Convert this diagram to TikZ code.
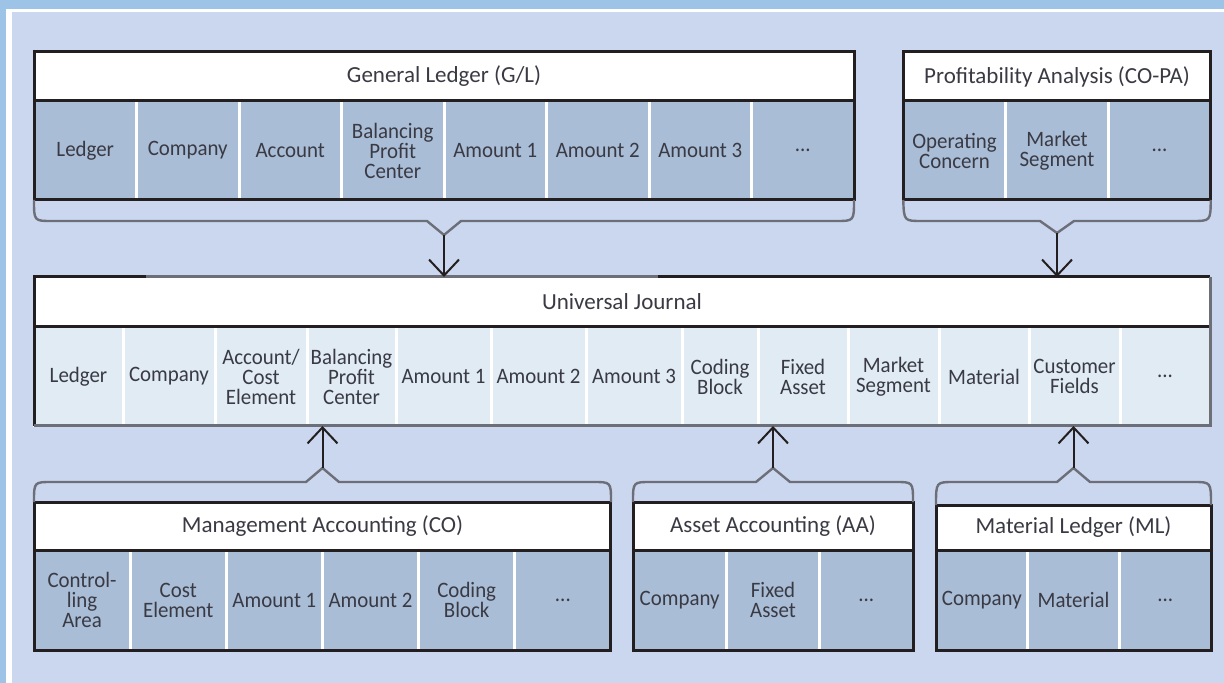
\documentclass[tikz,border=0pt]{standalone}
\usepackage{fontspec}
\setmainfont{Carlito}
\newfontfamily\cellfont{Carlito}[FakeStretch=0.95]
\usepackage{tikz}
\usetikzlibrary{positioning,arrows.meta}
\definecolor{outerblue}{RGB}{157,195,230}
\definecolor{panelblue}{RGB}{203,215,238}
\definecolor{glgray}{RGB}{169,189,214}
\definecolor{ujpale}{RGB}{225,235,244}
\definecolor{framecol}{RGB}{35,31,32}
\definecolor{bracecol}{RGB}{108,111,120}
\definecolor{textcol}{RGB}{58,58,68}

\begin{document}
\begin{tikzpicture}[x=0.5pt, y=-0.5pt,
	title/.style={rectangle, fill=white, inner sep=0pt, outer sep=0pt, text=textcol, font=\fontsize{11.5}{12}\selectfont},
	cell/.style={rectangle, draw=white, line width=1.5pt, inner sep=0pt, outer sep=0pt, align=center, text=textcol, font=\cellfont\fontsize{11}{10}\selectfont},
	gcell/.style={cell, fill=glgray, minimum width=51.25pt, minimum height=49.5pt},
	jcell/.style={cell, fill=ujpale, minimum width=45pt, minimum height=49.5pt},
	frame/.style={draw=framecol, line width=1.5pt},
	brace/.style={draw=bracecol, line width=1.2pt},
	arr/.style={draw=framecol, line width=1pt, -{Straight Barb[length=8pt, width=15pt]}}]
	\useasboundingbox (0,0) rectangle (1224,683);
	\fill[outerblue] (0,0) rectangle (1224,683);
	\fill[white] (6,9) rectangle (1224,683);
	\fill[panelblue] (12,12) rectangle (1224,683);
	% general ledger
	\node[title, minimum width=410pt, minimum height=24.5pt] (glT) at (444,76.5) {General Ledger (G/L)};
	\node[gcell, anchor=north west] (gl1) at (glT.south west) {Ledger};
	\node[gcell, right=0pt of gl1] (gl2) {Company};
	\node[gcell, right=0pt of gl2] (gl3) {Account};
	\node[gcell, right=0pt of gl3] (gl4) {Balancing\\Profit\\Center};
	\node[gcell, right=0pt of gl4] (gl5) {Amount 1};
	\node[gcell, right=0pt of gl5] (gl6) {Amount 2};
	\node[gcell, right=0pt of gl6] (gl7) {Amount 3};
	\node[gcell, right=0pt of gl7] (gl8) {...};
	\draw[frame] (glT.north west) rectangle (gl8.south east);
	\draw[frame] (glT.south west) -- (glT.south east);
	% profitability analysis
	\node[title, minimum width=153.75pt, minimum height=24.5pt] (paT) at (1057,76.5) {Profitability Analysis (CO-PA)};
	\node[gcell, anchor=north west] (pa1) at (paT.south west) {Operating\\Concern};
	\node[gcell, right=0pt of pa1] (pa2) {Market\\Segment};
	\node[gcell, right=0pt of pa2] (pa3) {...};
	\draw[frame] (paT.north west) rectangle (pa3.south east);
	\draw[frame] (paT.south west) -- (paT.south east);
	% universal journal
	\node[title, minimum width=588pt, minimum height=25pt] (ujT) at (622,302) {Universal Journal};
	\node[jcell, minimum width=44.5pt, anchor=north west] (uj1) at (ujT.south west) {Ledger};
	\node[jcell, minimum width=46pt, right=0pt of uj1] (uj2) {Company};
	\node[jcell, minimum width=46pt, right=0pt of uj2] (uj3) {Account/\\Cost\\Element};
	\node[jcell, minimum width=44.5pt, right=0pt of uj3] (uj4) {Balancing\\Profit\\Center};
	\node[jcell, minimum width=47.5pt, right=0pt of uj4] (uj5) {Amount 1};
	\node[jcell, minimum width=47.5pt, right=0pt of uj5] (uj6) {Amount 2};
	\node[jcell, minimum width=48pt, right=0pt of uj6] (uj7) {Amount 3};
	\node[jcell, minimum width=38pt, right=0pt of uj7] (uj8) {Coding\\Block};
	\node[jcell, right=0pt of uj8] (uj9) {Fixed\\Asset};
	\node[jcell, minimum width=45.5pt, right=0pt of uj9] (uj10) {Market\\Segment};
	\node[jcell, right=0pt of uj10] (uj11) {Material};
	\node[jcell, minimum width=45.5pt, right=0pt of uj11] (uj12) {Customer\\Fields};
	\node[jcell, right=0pt of uj12] (uj13) {...};
	\draw[frame] (ujT.south west) -- (ujT.south east);
	\draw[frame] (uj1.south west) -- (ujT.north west) -- (ujT.north east);
	\draw[frame, draw=bracecol] (146,0 |- ujT.north) -- (658,0 |- ujT.north);
	\draw[frame, draw=bracecol] (ujT.north east) -- (uj13.south east) -- (uj1.south west);
	% management accounting
	\node[title, minimum width=288.5pt, minimum height=24pt] (coT) at (322.5,526) {Management Accounting (CO)};
	\node[gcell, minimum width=48.08pt, minimum height=50pt, anchor=north west] (co1) at (coT.south west) {Control-\\ling\\Area};
	\node[gcell, minimum width=48.08pt, minimum height=50pt, right=0pt of co1] (co2) {Cost\\Element};
	\node[gcell, minimum width=48.08pt, minimum height=50pt, right=0pt of co2] (co3) {Amount 1};
	\node[gcell, minimum width=48.08pt, minimum height=50pt, right=0pt of co3] (co4) {Amount 2};
	\node[gcell, minimum width=48.08pt, minimum height=50pt, right=0pt of co4] (co5) {Coding\\Block};
	\node[gcell, minimum width=48.08pt, minimum height=50pt, right=0pt of co5] (co6) {...};
	\draw[frame] (coT.north west) rectangle (co6.south east);
	\draw[frame] (coT.south west) -- (coT.south east);
	% asset accounting
	\node[title, minimum width=140pt, minimum height=24pt] (aaT) at (773,526) {Asset Accounting (AA)};
	\node[gcell, minimum width=46.67pt, minimum height=50pt, anchor=north west] (aa1) at (aaT.south west) {Company};
	\node[gcell, minimum width=46.67pt, minimum height=50pt, right=0pt of aa1] (aa2) {Fixed\\Asset};
	\node[gcell, minimum width=46.67pt, minimum height=50pt, right=0pt of aa2] (aa3) {...};
	\draw[frame] (aaT.north west) rectangle (aa3.south east);
	\draw[frame] (aaT.south west) -- (aaT.south east);
	% material ledger
	\node[title, minimum width=137.5pt, minimum height=22.5pt] (mlT) at (1073.5,527.5) {Material Ledger (ML)};
	\node[gcell, minimum width=45.83pt, minimum height=50pt, anchor=north west] (ml1) at (mlT.south west) {Company};
	\node[gcell, minimum width=45.83pt, minimum height=50pt, right=0pt of ml1] (ml2) {Material};
	\node[gcell, minimum width=45.83pt, minimum height=50pt, right=0pt of ml2] (ml3) {...};
	\draw[frame] (mlT.north west) rectangle (ml3.south east);
	\draw[frame] (mlT.south west) -- (mlT.south east);
	% braces
	\coordinate (gltip) at (444,235);
	\coordinate (patip) at (1057,233);
	\coordinate (cotip) at (322.5,468);
	\coordinate (aatip) at (773,468);
	\coordinate (mltip) at (1073.5,468);
	\draw[brace] (gl1.south west) .. controls (34,221) .. (52,221) -- (427,221) -- (gltip) -- (461,221) -- (836,221) .. controls (854,221) .. (gl8.south east);
	\draw[brace] (pa1.south west) .. controls (904,221) .. (922,221) -- (1040,221) -- (patip) -- (1074,221) -- (1192,221) .. controls (1210.5,221) .. (pa3.south east);
	\draw[brace] (coT.north west) .. controls (34,482) .. (52,482) -- (306,482) -- (cotip) -- (339,482) -- (593,482) .. controls (611,482) .. (coT.north east);
	\draw[brace] (aaT.north west) .. controls (633,482) .. (651,482) -- (756,482) -- (aatip) -- (790,482) -- (895,482) .. controls (913,482) .. (aaT.north east);
	\draw[brace] (mlT.north west) .. controls (936,482) .. (954,482) -- (1057,482) -- (mltip) -- (1090,482) -- (1193,482) .. controls (1211,482) .. (mlT.north east);
	% arrows
	\draw[arr] (gltip) -- (gltip |- ujT.north);
	\draw[arr] (patip) -- (patip |- ujT.north);
	\draw[arr] (cotip) -- (cotip |- uj4.south);
	\draw[arr] (aatip) -- (aatip |- uj9.south);
	\draw[arr] (mltip) -- (mltip |- uj12.south);
\end{tikzpicture}
\end{document}
